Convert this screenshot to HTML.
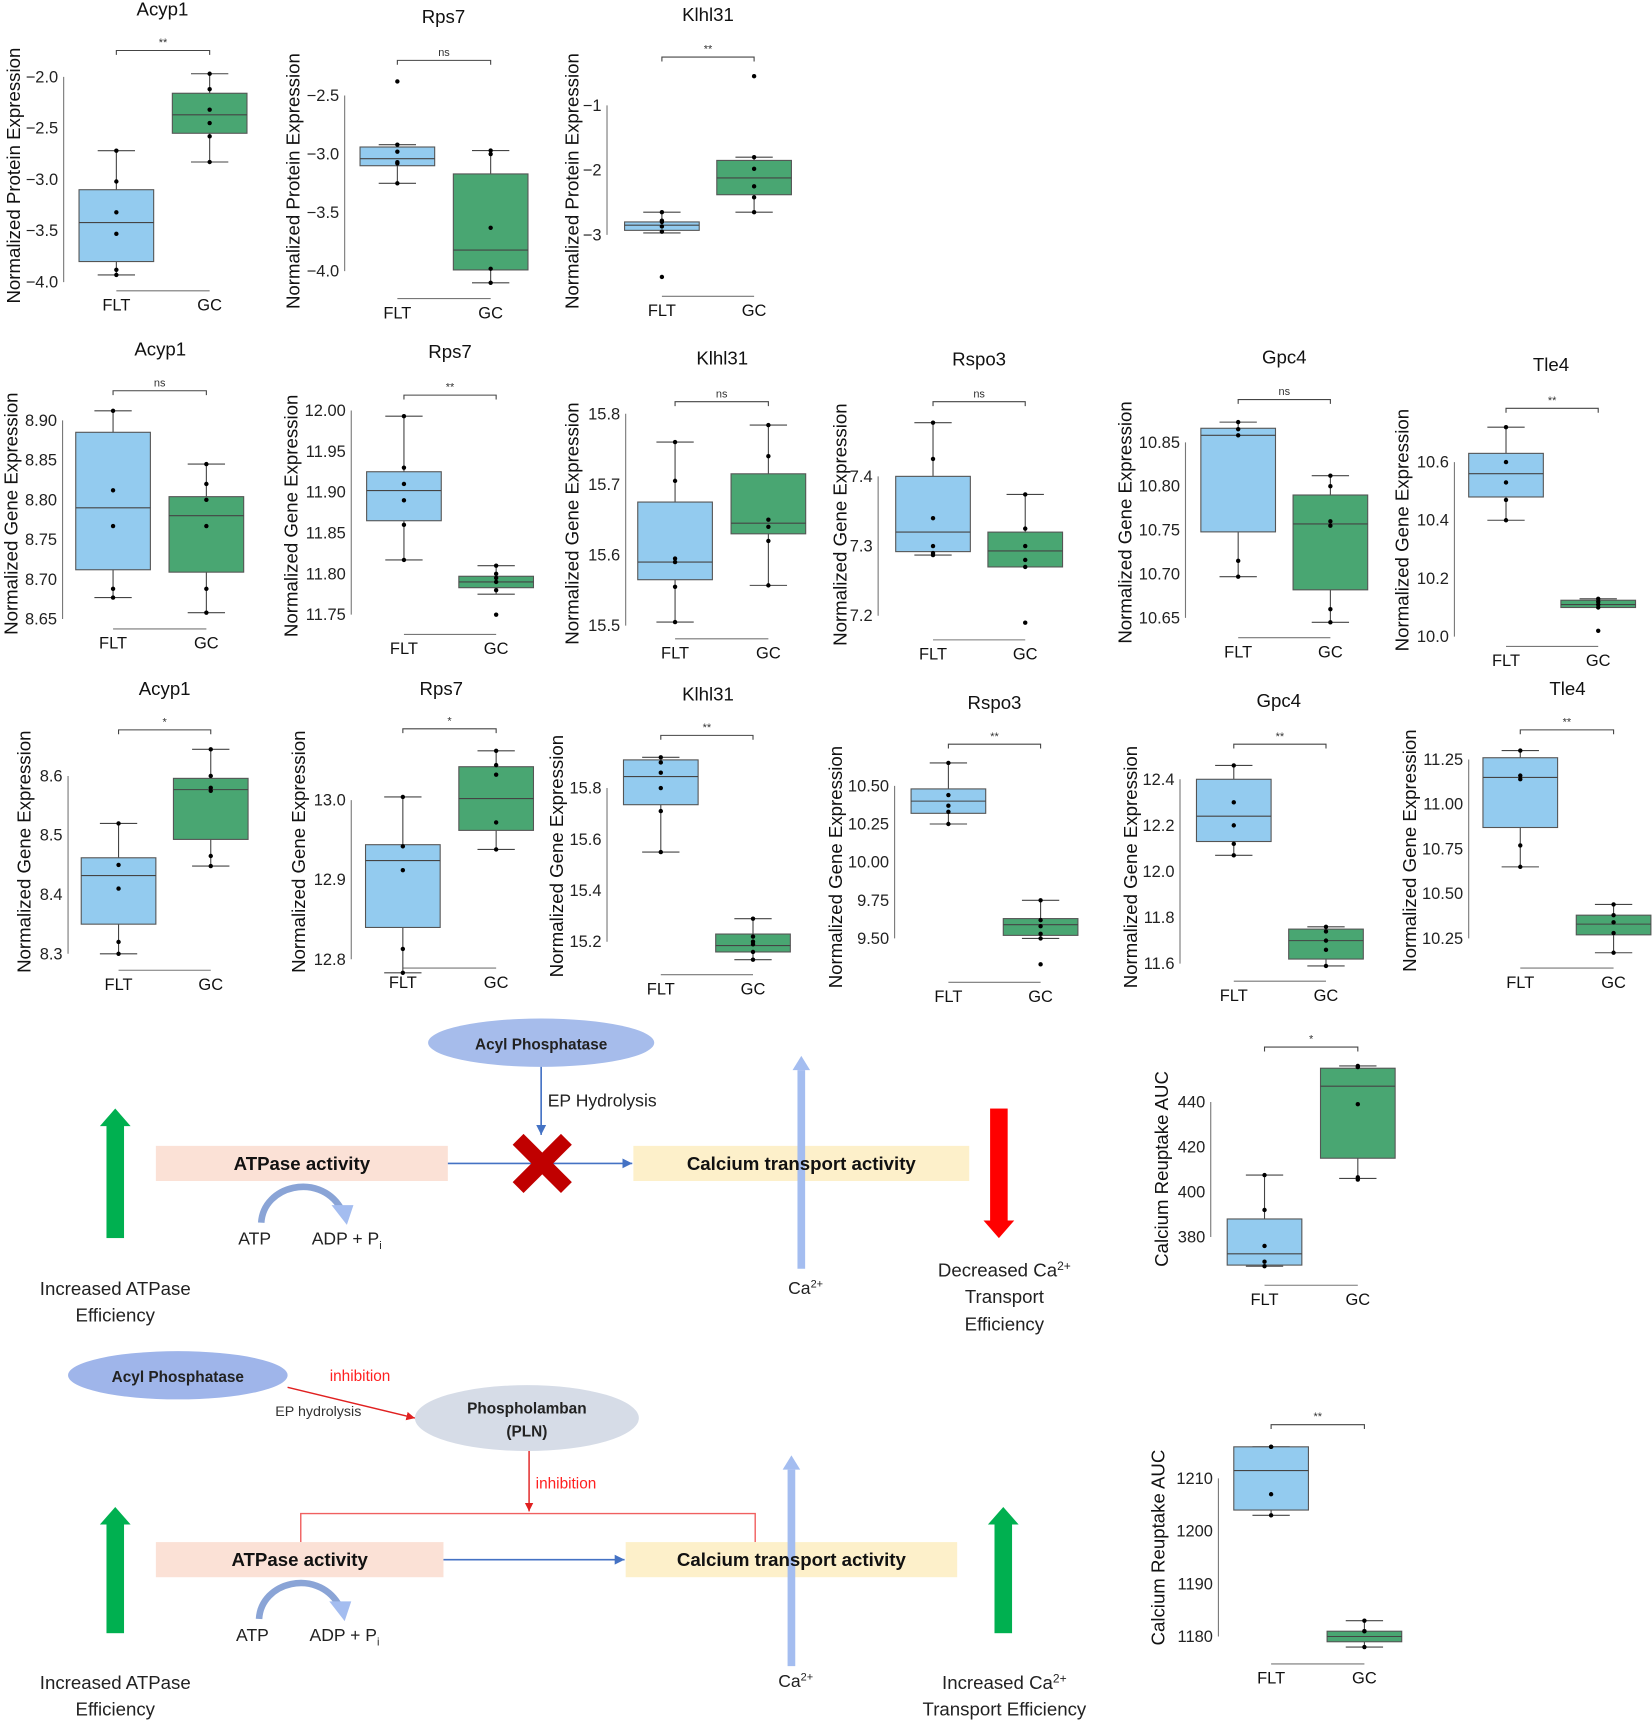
<!DOCTYPE html>
<html><head><meta charset="utf-8"><style>
html,body{margin:0;padding:0;background:#fff;}
svg{display:block;font-family:"Liberation Sans",sans-serif;}
.dg{font-family:"Liberation Sans",sans-serif;}
</style></head><body>
<svg id="fig" width="1652" height="1721" viewBox="0 0 1505 1568" preserveAspectRatio="none" xmlns="http://www.w3.org/2000/svg">
<defs>
<marker id="ab" markerWidth="8" markerHeight="8" refX="6" refY="3" orient="auto"><path d="M0,0 L6,3 L0,6 z" fill="#4472c4"/></marker>
<marker id="ar" markerWidth="8" markerHeight="8" refX="6" refY="3" orient="auto"><path d="M0,0 L6,3 L0,6 z" fill="#e02020"/></marker>
</defs>
<g id="charts"></g>

<g id="diagram-top" class="dg">
  <ellipse cx="493" cy="950" rx="103" ry="22" fill="#a6bceb"/>
  <text x="493" y="956" text-anchor="middle" font-size="14" font-weight="bold" fill="#222">Acyl Phosphatase</text>
  <line x1="493" y1="972" x2="493" y2="1034" stroke="#4472c4" stroke-width="1.5" marker-end="url(#ab)"/>
  <text x="499" y="1008" font-size="16" fill="#222">EP Hydrolysis</text>
  <rect x="142" y="1044" width="266" height="32" fill="#fbe1d6"/>
  <text x="275" y="1066" text-anchor="middle" font-size="17" font-weight="bold" fill="#111">ATPase activity</text>
  <line x1="408" y1="1060" x2="576" y2="1060" stroke="#4472c4" stroke-width="1.5" marker-end="url(#ab)"/>
  <g stroke="#c00000" stroke-width="14"><line x1="472" y1="1038" x2="516" y2="1082"/><line x1="516" y1="1038" x2="472" y2="1082"/></g>
  <rect x="577" y="1044" width="306" height="32" fill="#fdf0ca"/>
  <line x1="730" y1="1156" x2="730" y2="975" stroke="#a4bdf0" stroke-width="7"/>
  <path d="M722,975 L730,962 L738,975 z" fill="#a4bdf0"/>
  <text x="730" y="1066" text-anchor="middle" font-size="17" font-weight="bold" fill="#111">Calcium transport activity</text>
  <text x="718" y="1179" font-size="16" fill="#222">Ca<tspan dy="-6" font-size="10">2+</tspan></text>
  <g><rect x="97" y="1024" width="16" height="104" fill="#00b050"/><path d="M91,1026 L105,1010 L119,1026 z" fill="#00b050"/></g>
  <g><rect x="902" y="1010" width="16" height="104" fill="#ff0000"/><path d="M896,1112 L910,1128 L924,1112 z" fill="#ff0000"/></g>
  <path d="M238,1114 C240,1080 290,1068 310,1100" fill="none" stroke="#8aa4d6" stroke-width="6"/>
  <path d="M302,1098 L322,1098 L316,1116 z" fill="#a4bdf0"/>
  <text x="232" y="1134" text-anchor="middle" font-size="16" fill="#222">ATP</text>
  <text x="284" y="1134" font-size="16" fill="#222">ADP + P<tspan dy="4" font-size="10">i</tspan></text>
  <text x="105" y="1180" text-anchor="middle" font-size="17" fill="#222">Increased ATPase</text>
  <text x="105" y="1204" text-anchor="middle" font-size="17" fill="#222">Efficiency</text>
  <text x="915" y="1163" text-anchor="middle" font-size="17" fill="#222">Decreased Ca<tspan dy="-6" font-size="11">2+</tspan></text>
  <text x="915" y="1187" text-anchor="middle" font-size="17" fill="#222">Transport</text>
  <text x="915" y="1212" text-anchor="middle" font-size="17" fill="#222">Efficiency</text>
</g>

<g id="diagram-bottom" class="dg">
  <ellipse cx="162" cy="1253" rx="100" ry="22" fill="#9fb5ea"/>
  <text x="162" y="1259" text-anchor="middle" font-size="14" font-weight="bold" fill="#222">Acyl Phosphatase</text>
  <text x="328" y="1258" text-anchor="middle" font-size="14" fill="#ff2020">inhibition</text>
  <text x="290" y="1290" text-anchor="middle" font-size="13" fill="#333">EP hydrolysis</text>
  <line x1="262" y1="1264" x2="378" y2="1292" stroke="#e02020" stroke-width="1.3" marker-end="url(#ar)"/>
  <ellipse cx="480" cy="1292" rx="102" ry="30" fill="#d6dce7"/>
  <text x="480" y="1288" text-anchor="middle" font-size="14" font-weight="bold" fill="#222">Phospholamban</text>
  <text x="480" y="1309" text-anchor="middle" font-size="14" font-weight="bold" fill="#222">(PLN)</text>
  <line x1="482" y1="1322" x2="482" y2="1377" stroke="#e02020" stroke-width="1.3" marker-end="url(#ar)"/>
  <text x="488" y="1356" font-size="14" fill="#ff2020">inhibition</text>
  <path d="M274,1405 L274,1379 L688,1379 L688,1405" fill="none" stroke="#f06060" stroke-width="1.3"/>
  <rect x="142" y="1405" width="262" height="32" fill="#fbe1d6"/>
  <text x="273" y="1427" text-anchor="middle" font-size="17" font-weight="bold" fill="#111">ATPase activity</text>
  <line x1="404" y1="1421" x2="569" y2="1421" stroke="#4472c4" stroke-width="1.5" marker-end="url(#ab)"/>
  <rect x="570" y="1405" width="302" height="32" fill="#fdf0ca"/>
  <line x1="721" y1="1518" x2="721" y2="1339" stroke="#a4bdf0" stroke-width="7"/>
  <path d="M713,1339 L721,1326 L729,1339 z" fill="#a4bdf0"/>
  <text x="721" y="1427" text-anchor="middle" font-size="17" font-weight="bold" fill="#111">Calcium transport activity</text>
  <text x="709" y="1537" font-size="16" fill="#222">Ca<tspan dy="-6" font-size="10">2+</tspan></text>
  <g><rect x="97" y="1387" width="16" height="101" fill="#00b050"/><path d="M91,1389 L105,1373 L119,1389 z" fill="#00b050"/></g>
  <g><rect x="906" y="1387" width="16" height="101" fill="#00b050"/><path d="M900,1389 L914,1373 L928,1389 z" fill="#00b050"/></g>
  <path d="M236,1475 C238,1441 288,1429 308,1461" fill="none" stroke="#8aa4d6" stroke-width="6"/>
  <path d="M300,1459 L320,1459 L314,1477 z" fill="#a4bdf0"/>
  <text x="230" y="1495" text-anchor="middle" font-size="16" fill="#222">ATP</text>
  <text x="282" y="1495" font-size="16" fill="#222">ADP + P<tspan dy="4" font-size="10">i</tspan></text>
  <text x="105" y="1539" text-anchor="middle" font-size="17" fill="#222">Increased ATPase</text>
  <text x="105" y="1563" text-anchor="middle" font-size="17" fill="#222">Efficiency</text>
  <text x="915" y="1539" text-anchor="middle" font-size="17" fill="#222">Increased Ca<tspan dy="-6" font-size="11">2+</tspan></text>
  <text x="915" y="1563" text-anchor="middle" font-size="17" fill="#222">Transport Efficiency</text>
</g>
</svg>
<script>
const panelTitles=["Acyp1","Rps7","Klhl31","Acyp1","Rps7","Klhl31","Rspo3","Gpc4","Tle4","Acyp1","Rps7","Klhl31","Rspo3","Gpc4","Tle4","",""];
const yAxisTitles=["Normalized Protein Expression","Normalized Protein Expression","Normalized Protein Expression",
"Normalized Gene Expression","Normalized Gene Expression","Normalized Gene Expression","Normalized Gene Expression","Normalized Gene Expression","Normalized Gene Expression",
"Normalized Gene Expression","Normalized Gene Expression","Normalized Gene Expression","Normalized Gene Expression","Normalized Gene Expression","Normalized Gene Expression",
"Calcium Reuptake AUC","Calcium Reuptake AUC"];
const sigLabels=["**","ns","**","ns","**","ns","ns","ns","**","*","*","**","**","**","**","*","**"];
const groupLabels=["FLT","GC"];
const tickValues=[[-2.0,-2.5,-3.0,-3.5,-4.0],[-2.5,-3.0,-3.5,-4.0],[-1,-2,-3],
[8.90,8.85,8.80,8.75,8.70,8.65],[12.00,11.95,11.90,11.85,11.80,11.75],[15.8,15.7,15.6,15.5],[7.4,7.3,7.2],[10.85,10.80,10.75,10.70,10.65],[10.6,10.4,10.2,10.0],
[8.6,8.5,8.4,8.3],[13.0,12.9,12.8],[15.8,15.6,15.4,15.2],[10.50,10.25,10.00,9.75,9.50],[12.4,12.2,12.0,11.8,11.6],[11.25,11.00,10.75,10.50,10.25],
[440,420,400,380],[1210,1200,1190,1180]];
const tickDecimals=[1,1,0,2,2,1,1,2,1,1,1,1,2,1,2,0,0];
// [whiskerLow, q1, median, q3, whiskerHigh]
const fltBoxStats=[[-3.93,-3.80,-3.42,-3.10,-2.72],[-3.25,-3.10,-3.04,-2.94,-2.92],[-2.97,-2.93,-2.85,-2.80,-2.65],
[8.677,8.712,8.790,8.885,8.912],[11.817,11.865,11.902,11.925,11.993],[15.505,15.565,15.590,15.675,15.76],[7.287,7.292,7.32,7.40,7.477],[10.697,10.748,10.858,10.866,10.873],[10.40,10.48,10.56,10.63,10.72],
[8.30,8.35,8.432,8.462,8.52],[12.783,12.84,12.924,12.944,13.004],[15.55,15.735,15.845,15.91,15.92],[10.25,10.32,10.40,10.48,10.65],[12.07,12.13,12.24,12.40,12.46],[10.65,10.87,11.15,11.26,11.30],
[367,367.5,372.5,388,407.5],[1203,1204,1211.5,1216,1216]];
const gcBoxStats=[[-2.83,-2.55,-2.37,-2.16,-1.97],[-4.10,-3.99,-3.82,-3.17,-2.97],[-2.65,-2.38,-2.12,-1.85,-1.80],
[8.658,8.709,8.780,8.804,8.845],[11.775,11.783,11.79,11.797,11.81],[15.557,15.63,15.645,15.715,15.784],[7.27,7.27,7.293,7.32,7.374],[10.645,10.682,10.757,10.79,10.812],[10.10,10.10,10.11,10.125,10.13],
[8.448,8.493,8.577,8.596,8.645],[12.938,12.962,13.002,13.042,13.062],[15.13,15.16,15.185,15.23,15.29],[9.50,9.52,9.59,9.63,9.75],[11.59,11.62,11.70,11.75,11.76],[10.17,10.27,10.33,10.38,10.44],
[406,415,447,455,456],[1178,1179,1180,1181,1183]];
const fltPoints=[[-2.72,-3.02,-3.32,-3.53,-3.88,-3.93],[-2.38,-2.92,-2.98,-3.07,-3.08,-3.25],[-2.65,-2.78,-2.80,-2.87,-2.95,-3.65],
[8.912,8.812,8.767,8.688,8.677],[11.993,11.93,11.91,11.89,11.86,11.817],[15.76,15.705,15.595,15.59,15.555,15.505],[7.477,7.425,7.34,7.30,7.29,7.287],[10.873,10.865,10.858,10.715,10.697],[10.72,10.60,10.53,10.47,10.40],
[8.52,8.45,8.41,8.32,8.30],[13.004,12.942,12.912,12.813,12.783],[15.92,15.90,15.86,15.80,15.71,15.55],[10.65,10.44,10.37,10.33,10.25],[12.46,12.30,12.20,12.12,12.07],[11.30,11.16,11.14,10.77,10.65],
[407.5,392,376,369,367],[1216,1216,1207,1203]];
const gcPoints=[[-1.97,-2.12,-2.32,-2.45,-2.58,-2.83],[-2.97,-3.00,-3.63,-3.98,-4.10],[-0.55,-1.80,-1.98,-2.25,-2.42,-2.65],
[8.845,8.82,8.80,8.767,8.688,8.658],[11.81,11.80,11.795,11.79,11.78,11.75],[15.784,15.74,15.65,15.64,15.62,15.557],[7.374,7.325,7.30,7.28,7.27,7.19],[10.812,10.80,10.76,10.755,10.66,10.645],[10.13,10.12,10.11,10.10,10.02],
[8.645,8.60,8.58,8.575,8.465,8.448],[13.062,13.044,13.032,12.972,12.938],[15.29,15.22,15.20,15.19,15.16,15.13],[9.75,9.62,9.58,9.53,9.50,9.33],[11.76,11.74,11.70,11.66,11.59],[10.44,10.38,10.34,10.28,10.17],
[456,455.5,439,406.5,405.5],[1183,1181,1181,1178]];

// layout: axisX, pixel y of first & last tick, fltX, gcX, titleXY, ylabel x/y, baselineY, bracketY
const panelLayout=[
{ax:58,y0:70,y1:257,f:106,g:191,tx:148,ty:14,lx:12,ly:160,by:265,bk:46},
{ax:314,y0:87,y1:247,f:362,g:447,tx:404,ty:21,lx:267,ly:165,by:272,bk:55},
{ax:553,y0:96,y1:214,f:603,g:687,tx:645,ty:19,lx:521,ly:165,by:270,bk:52},
{ax:57,y0:383,y1:564,f:103,g:188,tx:146,ty:324,lx:10,ly:468,by:573,bk:356},
{ax:320,y0:374,y1:560,f:368,g:452,tx:410,ty:326,lx:265,ly:470,by:578,bk:360},
{ax:570,y0:377,y1:570,f:615,g:700,tx:658,ty:332,lx:521,ly:477,by:582,bk:366},
{ax:800,y0:434,y1:561,f:850,g:934,tx:892,ty:333,lx:765,ly:478,by:583,bk:366},
{ax:1080,y0:403,y1:563,f:1128,g:1212,tx:1170,ty:331,lx:1025,ly:476,by:581,bk:364},
{ax:1325,y0:421,y1:580,f:1372,g:1456,tx:1413,ty:338,lx:1277,ly:483,by:589,bk:372},
{ax:62,y0:707,y1:869,f:108,g:192,tx:150,ty:633,lx:22,ly:776,by:884,bk:665},
{ax:320,y0:729,y1:874,f:367,g:452,tx:402,ty:633,lx:272,ly:776,by:882,bk:664},
{ax:553,y0:718,y1:858,f:602,g:686,tx:645,ty:638,lx:507,ly:780,by:888,bk:670},
{ax:815,y0:716,y1:855,f:864,g:948,tx:906,ty:646,lx:761,ly:790,by:895,bk:678},
{ax:1075,y0:710,y1:878,f:1124,g:1208,tx:1165,ty:644,lx:1030,ly:790,by:894,bk:678},
{ax:1338,y0:692,y1:855,f:1385,g:1470,tx:1428,ty:633,lx:1284,ly:775,by:882,bk:665},
{ax:1103,y0:1004,y1:1127,f:1152,g:1237,tx:0,ty:0,lx:1058,ly:1065,by:1171,bk:954},
{ax:1110,y0:1347,y1:1491,f:1158,g:1243,tx:0,ty:0,lx:1055,ly:1410,by:1516,bk:1298}];

const NS="http://www.w3.org/2000/svg";
const root=document.getElementById('charts');
function mk(tag,attrs,parent,text){const e=document.createElementNS(NS,tag);for(const k in attrs)e.setAttribute(k,attrs[k]);if(text!==undefined)e.textContent=text;parent.appendChild(e);return e;}
const HALF=34;
panelLayout.forEach((L,i)=>{
  const t=tickValues[i];
  const v0=t[0],v1=t[t.length-1];
  const sy=v=>L.y0+(v-v0)/(v1-v0)*(L.y1-L.y0);
  const g=mk('g',{},root);
  
  
  if(panelTitles[i]){const tt=mk('text',{x:L.tx,y:L.ty,'text-anchor':'middle','font-size':17,fill:'#111'},g,panelTitles[i]);
    
    }
  const yl=mk('text',{x:0,y:0,transform:`translate(${L.lx+6},${L.ly}) rotate(-90)`,'text-anchor':'middle','font-size':17,fill:'#111'},g,yAxisTitles[i]);
  
  
  const axl=mk('line',{x1:L.ax,x2:L.ax,y1:sy(v0),y2:sy(v1),stroke:'#777','stroke-width':1},g);
  
  
  t.forEach(v=>{const tk=mk('text',{x:L.ax-5,y:sy(v)+5,'text-anchor':'end','font-size':15,fill:'#222'},g,v.toFixed(tickDecimals[i]).replace('-','\u2212'));
    
    });
  const bl=mk('line',{x1:L.f,x2:L.g,y1:L.by,y2:L.by,stroke:'#777','stroke-width':1},g);
  
  
  [L.f,L.g].forEach((cx,j)=>{const xl=mk('text',{x:cx,y:L.by+18,'text-anchor':'middle','font-size':15,fill:'#111'},g,groupLabels[j]);
    
    });
  const br=mk('path',{d:`M${L.f},${L.bk+4}V${L.bk}H${L.g}V${L.bk+4}`,fill:'none',stroke:'#444','stroke-width':1},g);
  
  
  const sl=mk('text',{x:(L.f+L.g)/2,y:L.bk-4,'text-anchor':'middle','font-size':10,fill:'#333'},g,sigLabels[i]);
  
  
  [[fltBoxStats[i],fltPoints[i],L.f,'#93cbef','flt'],[gcBoxStats[i],gcPoints[i],L.g,'#49a672','gc']].forEach(([s,pts,cx,col,nm])=>{
    const w=mk('line',{x1:cx,x2:cx,y1:sy(s[0]),y2:sy(s[4]),stroke:'#444','stroke-width':1},g);
    
    
    [s[0],s[4]].forEach(v=>{const c=mk('line',{x1:cx-17,x2:cx+17,y1:sy(v),y2:sy(v),stroke:'#444','stroke-width':1},g);
      
      });
    const b=mk('rect',{x:cx-HALF,y:sy(s[3]),width:2*HALF,height:Math.max(1,sy(s[1])-sy(s[3])),fill:col,stroke:'#555','stroke-width':1},g);
    
    
    const m=mk('line',{x1:cx-HALF,x2:cx+HALF,y1:sy(s[2]),y2:sy(s[2]),stroke:'#444','stroke-width':1},g);
    
    
    pts.forEach(v=>{const p=mk('circle',{cx:cx,cy:sy(v),r:2,fill:'#000'},g);
      
      });
  });
});
</script>
</body></html>
